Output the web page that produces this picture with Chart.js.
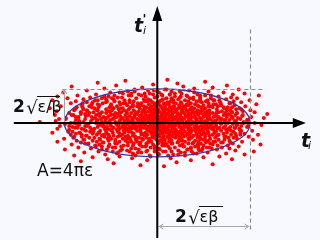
<!DOCTYPE html>
<html><head><meta charset="utf-8">
<script src="https://cdn.jsdelivr.net/npm/chart.js@4"></script>
<style>html,body{margin:0;padding:0;background:#f8f9fe;}canvas{display:block}</style>
</head><body>
<canvas id="c" width="320" height="240"></canvas>
<script>
// Particle cloud: each row is [t' value, [t values...]]
const cloudRows = [
[44,[12]],[43,[-38]],[42,[57]],[41,[-71]],[40,[24]],[39,[-5]],
[38,[-49,83]],[37,[31,-102]],[36,[-18,66]],[35,[44,-63]],
[34,[-27,9,97]],[33,[-84,38,-4]],[32,[61,-35,17]],
[31,[-56,2,79,-112]],[30,[29,-41,104,-9]],
[29,[-73,15,48,-22,90]],[28,[6,-95,57,-31,121]],
[27,[-14,36,-58,73,-119,21]],[26,[88,-3,-47,27,-80,51]],
[25,[-25,64,11,-66,39,-107,95]],[24,[43,-16,-52,82,7,-88,25]],
[23,[-39,19,68,-8,-71,110,33,-125]],
[22,[-60,3,47,-28,91,-97,16,58,-12]],
[21,[28,-45,75,-6,-84,12,53,-33,100]],
[20,[-19,40,-65,8,86,-38,22,-103,61,-1]],
[19,[35,-10,-55,70,14,-29,118,-78,45,-44,2]],
[18,[-69,26,-3,55,-36,92,10,-90,37,-20,76]],
[17,[4,-48,63,-24,31,-81,105,19,-7,49,-115,72]],
[16,[-32,15,84,-57,41,-2,-96,27,66,-13,52,-70,9]],
[15,[57,-21,6,-44,98,33,-75,18,-9,80,-52,44,-128,25]],
[14,[-15,39,-61,71,1,-34,22,-88,54,11,-5,94,-46,30]],
[13,[23,-54,48,-17,87,-99,7,35,-72,62,-28,14,-40,111,-3]],
[12,[-8,60,-37,17,-83,42,2,77,-22,-59,29,102,-11,51,-120,36]],
[11,[45,-26,9,-66,73,-4,31,-91,57,-43,20,-14,89,-76,3,116]],
[10,[-50,13,66,-31,38,-2,-81,95,24,-18,52,-105,7,43,-61,81,-36]],
[9,[28,-7,-47,59,11,-24,85,-68,40,0,-91,33,-14,70,-55,18,131]],
[8,[-38,5,49,-19,93,-73,26,-3,62,-51,14,-27,37,-100,79,-9,55,-122]],
[7,[16,-58,34,-12,70,-33,1,101,-85,45,-6,23,-44,88,-69,58,-21,8]],
[6,[-27,41,-64,10,83,-16,55,-2,-48,28,-94,67,-37,19,112,-8,36,-78,4]],
[5,[51,-19,6,-41,74,-60,30,-4,90,-30,14,-109,45,62,-12,-74,22,-51,127]],
[4,[-10,32,-53,77,3,-35,99,-86,18,47,-24,-3,60,-67,25,-117,38,9,-43]],
[3,[20,-44,64,-15,7,-71,40,-29,86,-6,53,-97,13,-56,29,108,-20,71,-1,-36]],
[2,[-31,11,57,-62,24,-9,92,-45,2,37,-79,68,-18,47,-121,15,-39,80,-3,30]],
[1,[43,-23,5,-50,75,-12,28,-88,59,0,-34,17,103,-66,35,-7,50,-57,8,-140]],
[0,[-17,36,-60,12,84,-40,1,54,-27,23,-99,66,-8,44,-73,29,-46,116,6,-13]],
[-1,[26,-49,7,63,-21,90,-35,15,-82,41,-4,57,-64,19,-110,33,-16,76,-41,2]],
[-2,[-56,14,-8,47,-30,70,3,-93,32,59,-19,22,-46,95,-70,8,39,-27,124,-2]],
[-3,[9,-38,81,-14,27,-65,52,-3,100,-47,17,-25,64,-86,36,-9,-116,46,21,-55]],
[-4,[-23,55,-4,34,-71,13,87,-42,26,-12,68,-101,5,44,-33,107,-60,18,-7]],
[-5,[38,-16,61,-52,2,93,-29,20,-80,49,-40,11,74,-6,-95,30,-63,56,-20]],
[-6,[-45,7,72,-26,40,-90,18,-1,58,-59,29,-13,85,-36,47,-119,10,65,-31]],
[-7,[22,-62,45,-9,98,-37,6,67,-20,31,-78,53,-48,13,-2,82,-105,37]],
[-8,[-11,50,-33,17,-85,76,3,-54,28,113,-24,41,-68,9,60,-40,22,-5]],
[-9,[33,-20,70,-47,8,-76,46,15,-34,91,-8,55,-61,24,-106,39,-2]],
[-10,[-30,61,4,-53,27,-14,83,-92,40,11,-70,50,-39,99,19,-4,-125]],
[-11,[47,-7,-60,21,79,-28,36,-97,6,58,-45,14,-18,104,-77,30]],
[-12,[-19,29,-72,53,2,-42,88,15,-12,66,-103,38,-58,23,-3,120]],
[-13,[8,-35,62,-84,25,43,-15,94,-52,17,-2,71,-29,34,-66]],
[-14,[-47,19,-6,80,-26,50,-90,31,3,-63,109,12,-38,57]],
[-15,[27,-58,41,-13,69,-33,7,-100,85,22,-4,-75,48,-22]],
[-16,[-9,52,-41,15,-69,37,95,-26,6,-111,63,-55,28]],
[-17,[38,-17,73,-50,9,-87,26,55,-32,114,-1,-68]],
[-18,[-25,61,3,-58,30,86,-38,17,-96,45,-9]],
[-19,[14,-45,49,-7,101,-72,33,-24,67,-119,6]],
[-20,[-35,24,78,-11,-64,43,-91,9,58,-20]],
[-21,[52,-28,1,-82,37,-50,90,18,-13]],
[-22,[-57,11,66,-21,30,-102,48,-5,123]],
[-23,[27,-40,84,-13,-74,55,6,-29]],
[-24,[-18,45,-66,13,97,-43,32]],
[-25,[62,-8,-53,21,-94,40,77]],
[-26,[-31,15,-79,54,86,-3]],
[-27,[36,-60,3,71,-22,-110]],
[-28,[-44,25,93,-12,50]],
[-29,[10,-70,41,-33,115]],
[-30,[-19,60,-87,28]],
[-31,[47,-48,1,82]],
[-32,[-62,19,104]],
[-33,[33,-26,-99]],
[-34,[-8,74,-45]],
[-35,[55,-77]],[-36,[-30,16]],[-37,[89,-59]],[-38,[-12,40]],
[-39,[-91]],[-40,[23]],[-41,[-52]],[-42,[66]],[-43,[-20]],[-44,[8]]
];
// extra particles filling the middle ring of the ellipse: [t, t']
const cloudMid = [
[69,1],[81,3],[60,3],[73,6],[82,8],[59,7],[71,11],[62,11],[48,10],[54,13],
[61,17],[42,14],[48,18],[51,22],[34,17],[37,22],[29,20],[20,17],[19,21],[17,25],
[8,19],[5,23],[0,27],[-4,20],[-11,24],[-15,22],[-16,17],[-23,20],[-33,23],[-29,17],
[-40,20],[-51,22],[-41,15],[-55,18],[-53,15],[-45,11],[-57,12],[-71,13],[-55,8],[-70,9],
[-82,8],[-62,5],[-77,4],[-72,2],[-57,1],
[-67,-2],[-84,-3],[-63,-4],[-75,-6],[-80,-9],[-56,-7],[-69,-10],[-64,-12],[-46,-9],[-57,-14],
[-59,-16],[-44,-13],[-50,-19],[-48,-21],[-36,-16],[-35,-23],[-31,-19],[-18,-16],[-21,-22],[-14,-24],
[-10,-18],[-3,-24],[2,-26],[6,-21],[9,-23],[17,-21],[14,-16],[25,-19],[31,-24],[27,-18],
[42,-21],[49,-23],[39,-14],[57,-17],[51,-16],[47,-12],[55,-11],[73,-12],[53,-7],[68,-10],
[84,-7],[64,-4],[79,-5],[70,-3],[59,-2]
];
// extra particles near the ellipse rim: [t, t']
const cloudEdge = [
[103,0],[94,2],[107,3],[96,5],[89,6],[102,8],[95,10],[89,11],[100,14],[83,13],
[89,16],[79,16],[87,20],[76,19],[67,19],[74,23],[67,23],[60,23],[64,28],[51,24],
[51,28],[43,26],[44,31],[35,28],[28,27],[27,32],[21,30],[15,29],[11,34],[5,29],
[0,32],[-5,29],[-11,33],[-15,30],[-19,28],[-27,32],[-31,30],[-34,28],[-45,31],[-42,26],
[-51,28],[-54,25],[-63,27],[-61,24],[-61,21],[-74,23],[-77,21],[-71,19],[-89,20],[-78,16],
[-89,16],[-84,13],[-98,14],[-91,11],[-86,9],[-102,8],[-97,6],[-94,5],[-109,4],[-93,2],
[-103,0],[-96,-1],[-105,-3],[-98,-5],[-87,-7],[-101,-9],[-93,-10],[-90,-12],[-99,-14],[-85,-13],
[-88,-17],[-81,-15],[-86,-21],[-77,-18],[-65,-20],[-73,-24],[-69,-22],[-58,-24],[-66,-27],[-50,-25],
[-53,-29],[-42,-27],[-47,-30],[-36,-28],[-26,-26],[-29,-31],[-23,-30],[-13,-29],[-9,-33],[-3,-29],
[2,-32],[7,-29],[13,-33],[17,-29],[25,-32],[33,-30],[36,-27],[43,-31],[40,-26],[53,-28],
[49,-26],[65,-26],[59,-25],[63,-21],[72,-23],[76,-20],[69,-19],[87,-20],[80,-17],[91,-15],
[82,-14],[99,-12],[93,-11],[88,-8],[100,-8],[98,-6],[92,-5],[108,-3],[95,-2]
];
// Text labels
const xTitle = ['t', 'i'];
const yTitle = ['t', "'", 'i'];
const widthLabel = ['2', '\u221A', '\u03B5\u03B2'];
const heightLabel = ['2', '\u221A', '\u03B5/\u03B2'];
const areaLabel = 'A=4\u03C0\u03B5';

// Geometry (data units)
const ELL_RX = 110.6, ELL_RY = 34.5;
const X_MIN = -185, X_MAX = 191.5, Y_MIN = -117, Y_MAX = 123;

const points = [];
cloudRows.forEach(([y, xs]) => xs.forEach(x => points.push({x: x, y: y})));
cloudMid.concat(cloudEdge).forEach(([x, y]) => points.push({x: x, y: y}));

const bgPlugin = {
  id: 'bg',
  beforeDraw(chart) {
    const c = chart.ctx;
    c.save(); c.fillStyle = '#f8f9fe'; c.fillRect(0, 0, chart.width, chart.height); c.restore();
  }
};

function arrowHead(c, tipX, tipY, dx, dy, len, half) {
  c.beginPath();
  c.moveTo(tipX, tipY);
  c.lineTo(tipX - dx * len - dy * half, tipY - dy * len + dx * half);
  c.lineTo(tipX - dx * len + dy * half, tipY - dy * len - dx * half);
  c.closePath();
  c.fill();
}
function openHead(c, tipX, tipY, dx, dy, len, half) {
  c.beginPath();
  c.moveTo(tipX - dx * len - dy * half, tipY - dy * len + dx * half);
  c.lineTo(tipX, tipY);
  c.lineTo(tipX - dx * len + dy * half, tipY - dy * len - dx * half);
  c.stroke();
}

const overlay = {
  id: 'overlay',
  afterDatasetsDraw(chart) {
    const c = chart.ctx;
    const X = v => chart.scales.x.getPixelForValue(v);
    const Y = v => chart.scales.y.getPixelForValue(v);
    const cx = X(0), cy = Y(0);
    c.save();
    // ellipse
    c.strokeStyle = '#3a3a9c'; c.lineWidth = 1.3;
    c.beginPath();
    c.ellipse(cx, cy, X(ELL_RX) - cx, cy - Y(ELL_RY), 0, 0, Math.PI * 2);
    c.stroke();
    // dashed guides
    c.strokeStyle = '#8c8c8c'; c.lineWidth = 1.2; c.setLineDash([4, 3]);
    c.beginPath();
    c.moveTo(X(-113), Math.round(Y(ELL_RY)) + 0.5); c.lineTo(X(129), Math.round(Y(ELL_RY)) + 0.5);
    c.moveTo(Math.round(X(ELL_RX)) + 0.5, Y(95)); c.lineTo(Math.round(X(ELL_RX)) + 0.5, Y(-110));
    c.stroke();
    c.setLineDash([]);
    // dimension arrows
    c.strokeStyle = '#a5a5a5'; c.lineWidth = 1;
    const vx = Math.round(X(-ELL_RX)) + 0.5;
    c.beginPath(); c.moveTo(vx, Y(ELL_RY)); c.lineTo(vx, cy); c.stroke();
    openHead(c, vx, Y(ELL_RY) + 1, 0, -1, 4, 2.5);
    const hy = Math.round(Y(-105)) + 0.5;
    c.beginPath(); c.moveTo(cx + 1, hy); c.lineTo(X(ELL_RX) - 1, hy); c.stroke();
    openHead(c, cx + 2, hy, -1, 0, 4, 2.5);
    openHead(c, X(ELL_RX) - 1.5, hy, 1, 0, 4, 2.5);
    // axes
    c.strokeStyle = '#000'; c.fillStyle = '#000'; c.lineWidth = 2;
    c.beginPath();
    c.moveTo(X(-171), cy); c.lineTo(X(165), cy);
    c.moveTo(cx, Y(Y_MIN)); c.lineTo(cx, Y(104));
    c.stroke();
    arrowHead(c, X(177), cy, 1, 0, 13, 5);
    arrowHead(c, cx, Y(119), 0, -1, 15, 5);
    // texts
    c.fillStyle = '#111';
    c.textBaseline = 'alphabetic';
    const F = '"DejaVu Sans", Verdana, sans-serif';
    // y title t'_i
    c.font = 'italic bold 19px ' + F; c.fillText(yTitle[0], 134, 32);
    c.font = 'bold 13px ' + F; c.fillText(yTitle[1], 142.5, 23);
    c.font = 'italic 11px ' + F; c.fillText(yTitle[2], 143, 34);
    // x title t_i
    c.font = 'italic bold 19px ' + F; c.fillText(xTitle[0], 301, 147);
    c.font = 'italic 11px ' + F; c.fillText(xTitle[1], 308, 149);
    // radical labels
    function radicalLabel(lbl, x, base, ovY, ovEnd) {
      c.font = 'bold 17px ' + F; c.fillText(lbl[0], x, base);
      const x2 = x + c.measureText(lbl[0]).width + 1.5;
      c.font = '18px ' + F; c.fillText(lbl[1], x2, base + 2);
      const x3 = x2 + c.measureText(lbl[1]).width - 0.8;
      c.font = '16px ' + F; c.fillText(lbl[2], x3 + 0.5, base - 0.5);
      c.strokeStyle = '#111'; c.lineWidth = 1;
      c.beginPath(); c.moveTo(x3, ovY); c.lineTo(ovEnd, ovY); c.stroke();
    }
    radicalLabel(heightLabel, 13, 112, 96.5, 60);
    radicalLabel(widthLabel, 175, 222, 206.5, 223);
    c.font = '17px ' + F; c.fillText(areaLabel, 37, 176);
    c.restore();
  }
};

new Chart(document.getElementById('c'), {
  type: 'scatter',
  data: { datasets: [{ data: points, backgroundColor: '#ff0000', borderWidth: 0,
    pointRadius: 2, pointHoverRadius: 2, pointStyle: 'circle' }] },
  options: {
    responsive: false, animation: false, events: [],
    layout: { padding: 0 },
    plugins: { legend: { display: false }, tooltip: { enabled: false }, title: { display: false } },
    scales: {
      x: { type: 'linear', min: X_MIN, max: X_MAX, display: false },
      y: { type: 'linear', min: Y_MIN, max: Y_MAX, display: false }
    }
  },
  plugins: [bgPlugin, overlay]
});
</script>
</body></html>
